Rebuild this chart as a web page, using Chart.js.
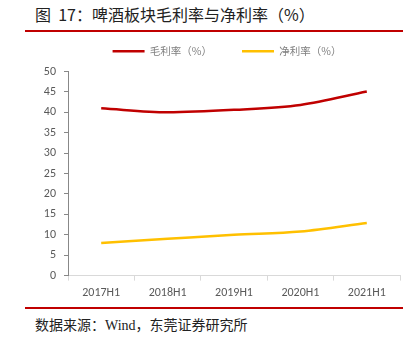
<!DOCTYPE html>
<html lang="zh-CN">

<head>
    <meta charset="UTF-8">
    <title>啤酒板块毛利率与净利率</title>
    <script src="https://cdn.jsdelivr.net/npm/chart.js"></script>
    <style>
        body {
            margin: 0;
            width: 416px;
            height: 343px;
            background: #fff;
            position: relative;
            overflow: hidden;
        }

        .title {
            position: absolute;
            left: 35px;
            top: 2px;
            font: 16px "Noto Sans CJK SC", sans-serif;
            color: #222;
            white-space: pre;
        }

        .rule {
            position: absolute;
            left: 25px;
            width: 378px;
            height: 2px;
            background: #c00000;
        }

        .chart-box {
            position: absolute;
            left: 0;
            top: 16px;
            width: 410px;
            height: 289px;
        }

        .source {
            position: absolute;
            left: 35px;
            top: 314px;
            font: 14px "Liberation Serif", "Noto Sans CJK SC", serif;
            color: #222;
            white-space: nowrap;
        }
    </style>
</head>

<body>
    <div class="title">图  17：啤酒板块毛利率与净利率（%）</div>
    <div class="rule" style="top:30px"></div>
    <div class="chart-box">
        <canvas id="marginChart"></canvas>
    </div>
    <div class="rule" style="top:307px"></div>
    <div class="source">数据来源：Wind，东莞证券研究所</div>

    <script>
        const periods = ['2017H1', '2018H1', '2019H1', '2020H1', '2021H1'];
        const grossMargin = [41.0, 40.0, 40.6, 41.8, 45.1];
        const netMargin = [8.0, 9.0, 10.0, 10.8, 12.9];
        const yTicks = [0, 5, 10, 15, 20, 25, 30, 35, 40, 45, 50];

        const axisFont = { family: 'Calibri, Carlito, "Open Sans", sans-serif', size: 12 };

        // legend row: a little more room underneath, and sat right of centre
        const legendTweak = {
            id: 'legendTweak',
            beforeInit(chart) {
                const fit = chart.legend.fit;
                chart.legend.fit = function () {
                    fit.call(this);
                    this.height += 5;
                };
            },
            afterLayout(chart) {
                chart.legend.left += 27;
                chart.legend.right += 27;
            }
        };

        new Chart(document.getElementById('marginChart'), {
            type: 'line',
            data: {
                labels: periods,
                datasets: [{
                    label: '毛利率（%）',
                    data: grossMargin,
                    borderColor: '#c00000',
                    backgroundColor: '#c00000',
                    borderWidth: 2.5,
                    pointRadius: 0,
                    tension: 0.4,
                    cubicInterpolationMode: 'monotone'
                }, {
                    label: '净利率（%）',
                    data: netMargin,
                    borderColor: '#ffc000',
                    backgroundColor: '#ffc000',
                    borderWidth: 2.5,
                    pointRadius: 0,
                    tension: 0.4,
                    cubicInterpolationMode: 'monotone'
                }]
            },
            options: {
                responsive: true,
                maintainAspectRatio: false,
                animation: false,
                layout: { padding: { left: 0, right: 10, top: 0, bottom: 0 } },
                plugins: {
                    tooltip: { enabled: false },
                    legend: {
                        position: 'top',
                        labels: {
                            usePointStyle: true,
                            pointStyle: 'line',
                            pointStyleWidth: 32,
                            color: '#7f7f7f',
                            padding: 30,
                            font: { family: '"Noto Sans CJK SC", sans-serif', size: 10.5 }
                        }
                    }
                },
                scales: {
                    x: {
                        offset: true,
                        grid: {
                            drawOnChartArea: false,
                            offset: true,
                            color: '#d9d9d9',
                            tickLength: 5
                        },
                        border: { color: '#d9d9d9' },
                        ticks: { color: '#595959', font: axisFont, padding: 5, maxRotation: 0 }
                    },
                    y: {
                        min: 0,
                        max: 50,
                        afterFit: (scale) => { scale.width = 68; },
                        afterBuildTicks: (scale) => { scale.ticks = yTicks.map(v => ({ value: v })); },
                        grid: {
                            drawOnChartArea: false,
                            color: '#888',
                            tickLength: 4
                        },
                        border: { color: '#888' },
                        ticks: { color: '#595959', font: axisFont, padding: 8 }
                    }
                }
            },
            plugins: [legendTweak]
        });
    </script>
</body>

</html>
